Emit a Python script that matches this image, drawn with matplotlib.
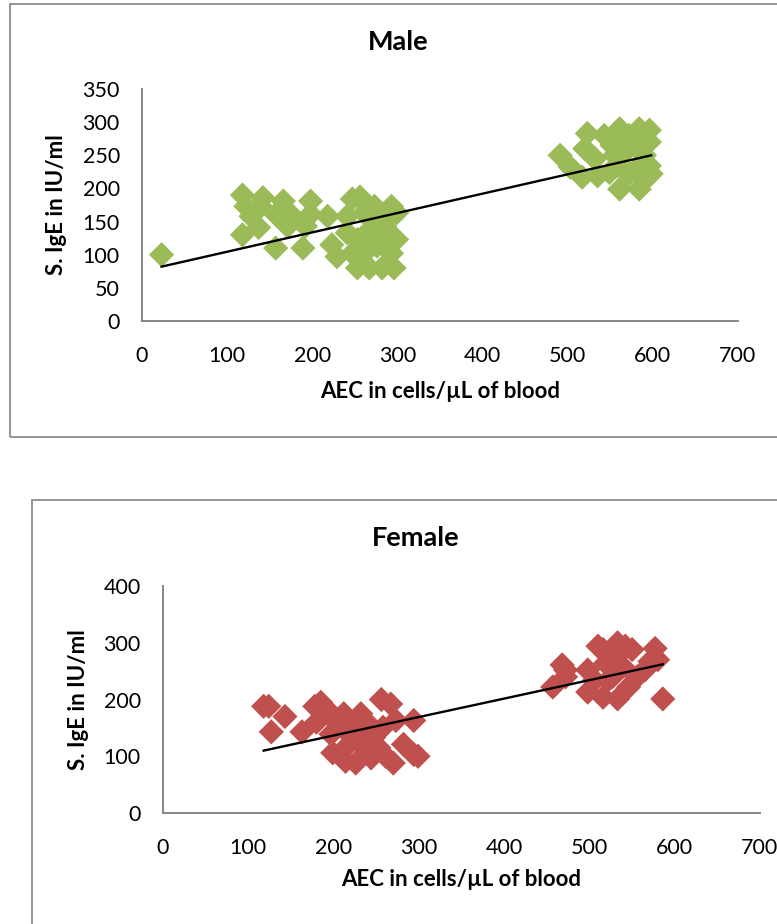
import matplotlib.pyplot as plt
from matplotlib.patches import Rectangle
import numpy as np

plt.rcParams['font.family'] = ['Lato', 'DejaVu Sans']

# Male: AEC (cells/uL) vs S. IgE (IU/ml)
male_aec = [23, 118, 118, 122, 128, 137, 142, 139, 157, 157, 166, 171, 177, 189, 192,
            198, 198, 218, 223, 229, 241, 247, 256, 253, 253, 261, 261, 267, 270, 273,
            276, 282, 285, 288, 293, 293, 296, 299, 299, 264, 279, 241, 247, 285,
            491, 503, 517, 523, 520, 532, 535, 543, 552, 555, 561, 567, 569, 549, 561,
            572, 584, 584, 590, 596, 596, 596, 598, 578, 572, 558, 584, 590]
male_ige = [100, 190, 130, 173, 158, 141, 186, 173, 161, 110, 181, 143, 158, 110, 143,
            181, 161, 158, 115, 97, 158, 184, 187, 123, 80, 163, 102, 80, 138, 173,
            113, 80, 153, 133, 173, 102, 80, 123, 163, 133, 123, 133, 102, 143,
            250, 232, 217, 283, 260, 245, 219, 280, 265, 250, 290, 275, 257, 224, 199,
            222, 290, 199, 212, 288, 270, 234, 222, 270, 280, 234, 234, 250]
male_fit = (0.292, 75.3)   # slope, intercept of the linear trend line

# Female
female_aec = [118, 124, 127, 143, 163, 178, 185, 180, 194, 197, 199, 212, 214, 218, 220,
              226, 229, 232, 238, 244, 247, 256, 258, 261, 267, 270, 273, 282, 294, 294,
              299, 205, 218, 253, 241,
              457, 468, 472, 472, 498, 498, 510, 516, 516, 519, 527, 533, 536, 533, 542,
              546, 550, 556, 565, 571, 577, 580, 586, 522, 539, 506]
female_ige = [188, 188, 143, 170, 143, 188, 195, 160, 180, 139, 106, 175, 91, 121, 157,
              88, 139, 175, 112, 97, 133, 200, 151, 100, 192, 88, 163, 121, 163, 103,
              100, 157, 139, 115, 157,
              222, 261, 252, 240, 252, 213, 294, 288, 204, 264, 240, 300, 282, 201, 294,
              222, 288, 240, 252, 267, 290, 270, 201, 234, 258, 234]
female_fit = (0.325, 71.6)

W, H = 777, 924
fig = plt.figure(figsize=(W / 100, H / 100), dpi=100)

# chart-area borders
edge = '#8c8c8c'
fig.add_artist(Rectangle((10 / W, (H - 437) / H), 1.2, 433 / H, transform=fig.transFigure,
                         fill=False, edgecolor=edge, lw=1.3))
fig.add_artist(Rectangle((32 / W, -0.1), 1.2, (H - 500) / H + 0.1, transform=fig.transFigure,
                         fill=False, edgecolor=edge, lw=1.3))


def panel(rect, x, y, fit, color, ymax, ystep, title, title_xy, xlab_y, ylab_x):
    ax = fig.add_axes(rect)
    ax.scatter(x, y, marker='D', s=165, color=color, edgecolors='none', zorder=2)
    xs = np.array([min(x), max(x)])
    ax.plot(xs, fit[0] * xs + fit[1], color='black', lw=1.7, zorder=3)
    ax.set_xlim(0, 700)
    ax.set_ylim(0, ymax)
    ax.set_xticks(range(0, 701, 100))
    ax.set_yticks(range(0, ymax + 1, ystep))
    for s in ['top', 'right']:
        ax.spines[s].set_visible(False)
    for s in ['left', 'bottom']:
        ax.spines[s].set_color('#868686')
        ax.spines[s].set_linewidth(1.4)
    ax.tick_params(axis='x', length=0, pad=18, labelsize=15.5)
    ax.tick_params(axis='y', length=0, pad=16, labelsize=15.5)
    ax.set_xlabel('AEC in cells/µL of blood', fontsize=16, fontweight='bold', va='center')
    ax.set_ylabel('S. IgE in IU/ml', fontsize=16, fontweight='bold', va='center')
    ax.xaxis.set_label_coords(0.5, xlab_y)
    ax.yaxis.set_label_coords(ylab_x, 0.5)
    fig.text(title_xy[0] / W, 1 - title_xy[1] / H, title, ha='center', va='center',
             fontsize=19.5, fontweight='bold')
    return ax


panel([142 / W, (H - 321) / H, 596 / W, 232 / H], male_aec, male_ige, male_fit,
      '#9bbb59', 350, 50, 'Male', (398, 42), -0.302, -0.143)
panel([163 / W, (H - 813) / H, 597 / W, 227 / H], female_aec, female_ige, female_fit,
      '#c0504d', 400, 100, 'Female', (416, 538), -0.295, -0.141)

fig.savefig('out.png', dpi=100)
